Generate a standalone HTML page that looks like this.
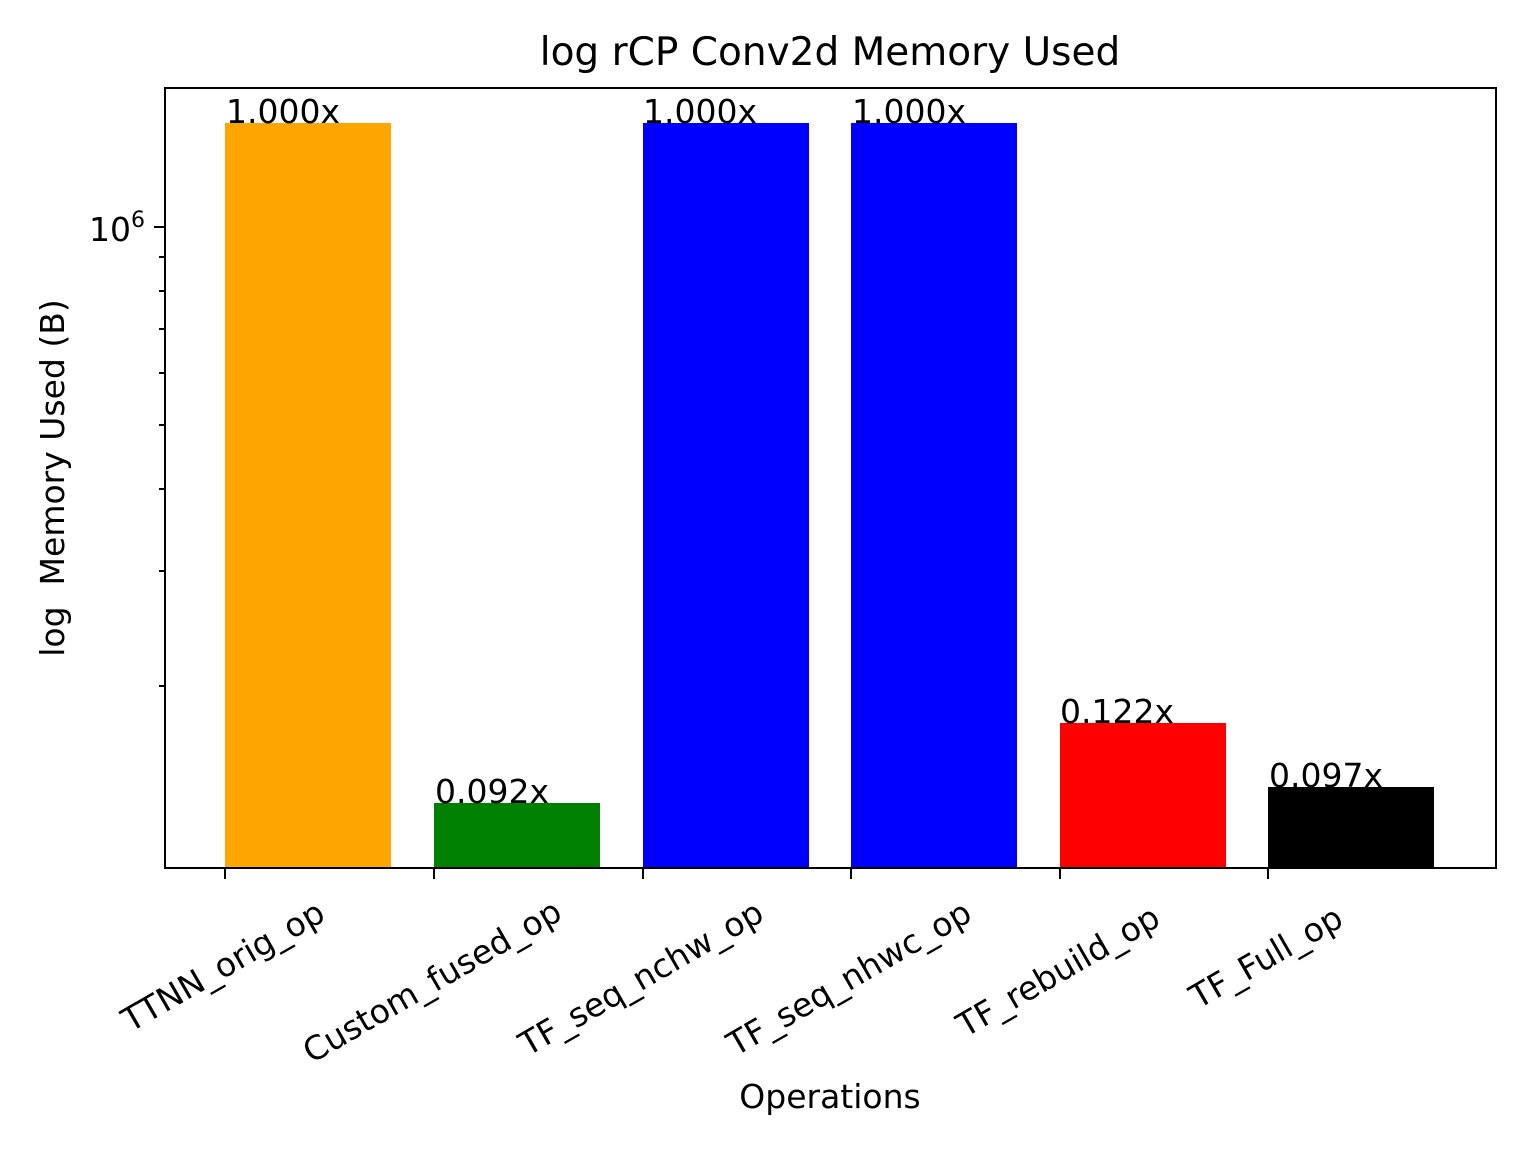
<!DOCTYPE html>
<html><head><style>html,body{margin:0;padding:0;background:#fff}svg{display:block}</style></head>
<body>
<svg width="1536" height="1152" viewBox="0 0 1536 1152" xmlns="http://www.w3.org/2000/svg" font-family="DejaVu Sans, Liberation Sans, sans-serif">
<rect width="1536" height="1152" fill="#fff"/>
<rect x="225" y="123" width="166" height="745" fill="#ffa500"/>
<rect x="434" y="803" width="166" height="65" fill="#008000"/>
<rect x="643" y="123" width="166" height="745" fill="#0000ff"/>
<rect x="851" y="123" width="166" height="745" fill="#0000ff"/>
<rect x="1060" y="723" width="166" height="145" fill="#ff0000"/>
<rect x="1268" y="787" width="166" height="81" fill="#000000"/>
<rect x="165" y="88" width="1331" height="780" fill="none" stroke="#000" stroke-width="2"/>
<g stroke="#000" stroke-width="2">
<line x1="225" y1="868" x2="225" y2="879"/><line x1="434" y1="868" x2="434" y2="879"/>
<line x1="643" y1="868" x2="643" y2="879"/><line x1="851" y1="868" x2="851" y2="879"/>
<line x1="1060" y1="868" x2="1060" y2="879"/><line x1="1268" y1="868" x2="1268" y2="879"/>
<line x1="154" y1="227" x2="165" y2="227"/>
<line x1="159" y1="257" x2="165" y2="257"/><line x1="159" y1="291" x2="165" y2="291"/>
<line x1="159" y1="329" x2="165" y2="329"/><line x1="159" y1="373" x2="165" y2="373"/>
<line x1="159" y1="425" x2="165" y2="425"/><line x1="159" y1="489" x2="165" y2="489"/>
<line x1="159" y1="571" x2="165" y2="571"/><line x1="159" y1="686" x2="165" y2="686"/>
</g>
<g font-size="33" fill="#000">
<text x="226" y="123">1.000x</text>
<text x="435" y="803">0.092x</text>
<text x="643" y="123">1.000x</text>
<text x="852" y="123">1.000x</text>
<text x="1060" y="723">0.122x</text>
<text x="1269" y="787">0.097x</text>
</g>
<text x="830" y="65" font-size="39" text-anchor="middle">log rCP Conv2d Memory Used</text>
<text x="830" y="1108" font-size="33" text-anchor="middle">Operations</text>
<text transform="translate(64,478) rotate(-90)" font-size="33" text-anchor="middle" xml:space="preserve">log  Memory Used (B)</text>
<text x="145" y="241" font-size="33" text-anchor="end">10<tspan font-size="22" dy="-14">6</tspan></text>
<g font-size="33" text-anchor="middle" dominant-baseline="central">
<text transform="translate(223,966) rotate(-30)">TTNN_orig_op</text>
<text transform="translate(432,981) rotate(-30)">Custom_fused_op</text>
<text transform="translate(641,978) rotate(-30)">TF_seq_nchw_op</text>
<text transform="translate(849,978) rotate(-30)">TF_seq_nhwc_op</text>
<text transform="translate(1058,971) rotate(-30)">TF_rebuild_op</text>
<text transform="translate(1266,957) rotate(-30)">TF_Full_op</text>
</g>
</svg>
</body></html>
